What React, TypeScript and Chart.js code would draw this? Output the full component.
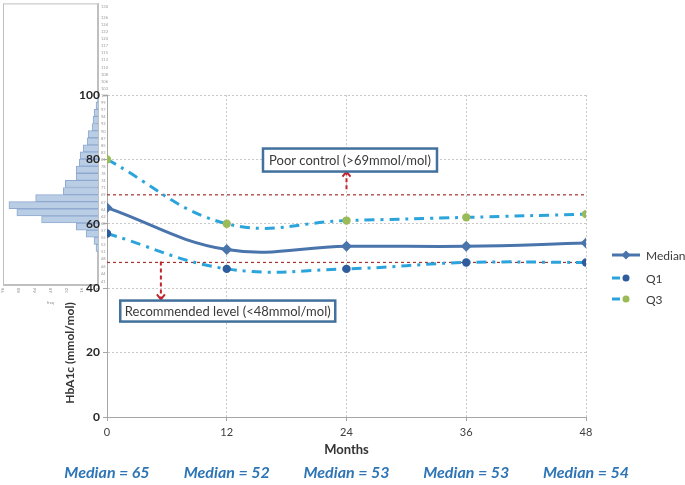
import React, { useEffect, useRef } from "react";
import { Chart, registerables } from "chart.js";

Chart.register(...registerables);

// ---------- data ----------
const months = [0, 12, 24, 36, 48];
const medianValues = [65, 52, 53, 53, 54];
const q1Values = [57, 46, 46, 48, 48];
const q3Values = [80, 60, 61, 62, 63];
const poorControlLevel = 69;
const recommendedLevel = 48;
const bottomLabels = ["Median = 65", "Median = 52", "Median = 53", "Median = 53", "Median = 54"];
const seriesLabels = ["Median", "Q1", "Q3"];

// histogram of baseline HbA1c (bin centres in mmol/mol, bar lengths as read)
const histBinCenters = [51.95, 54.25, 56.55, 58.85, 61.15, 63.45, 65.75, 68.05, 70.35, 72.65, 74.95, 77.25, 79.55, 81.85, 84.15, 86.45, 88.75, 91.05, 93.35, 95.65, 97.95, 100.25];
const histCounts = [2, 4, 12, 22, 57, 82, 90, 63, 35, 33, 22, 22, 19, 18, 15, 11, 10, 6, 5, 4, 2, 1];

// annotation texts
const poorControlText = "Poor control (>69mmol/mol)";
const recommendedText = "Recommended level (<48mmol/mol)";

// ---------- styles ----------
const FONT = "Lato, 'Open Sans', sans-serif";
const MEDIAN_COLOR = "#4A74AC";
const DASH_COLOR = "#2BA4DC";
const Q1_POINT = "#2E5C9C";
const Q3_POINT = "#9BBB59";
const REF_COLOR = "#A5322C";

const overlayPlugin = {
  id: "overlay",
  afterDraw(chart: any) {
    const { ctx, chartArea, scales } = chart;
    const xs = scales.x;
    const ys = scales.y;
    ctx.save();

    // annotation boxes
    const drawBox = (cxVal: number, cyVal: number, w: number, h: number, text: string) => {
      const px = xs.getPixelForValue(cxVal);
      const py = ys.getPixelForValue(cyVal);
      ctx.fillStyle = "#ffffff";
      ctx.fillRect(px - w / 2, py - h / 2, w, h);
      ctx.lineWidth = 2.5;
      ctx.strokeStyle = "#41719C";
      ctx.strokeRect(px - w / 2, py - h / 2, w, h);
      ctx.fillStyle = "#3a3a3a";
      ctx.font = `13px ${FONT}`;
      ctx.textAlign = "center";
      ctx.textBaseline = "middle";
      ctx.fillText(text, px, py + 1);
    };
    const drawArrow = (xVal: number, fromVal: number, toVal: number) => {
      const px = xs.getPixelForValue(xVal);
      const y1 = ys.getPixelForValue(fromVal);
      const y2 = ys.getPixelForValue(toVal);
      const dir = y2 > y1 ? 1 : -1;
      ctx.strokeStyle = "#C0272D";
      ctx.lineWidth = 2;
      ctx.setLineDash([4, 3]);
      ctx.beginPath();
      ctx.moveTo(px, y1);
      ctx.lineTo(px, y2);
      ctx.stroke();
      ctx.setLineDash([]);
      ctx.beginPath();
      ctx.moveTo(px - 4, y2 - dir * 5);
      ctx.lineTo(px, y2);
      ctx.lineTo(px + 4, y2 - dir * 5);
      ctx.stroke();
    };

    drawArrow(24, 70.7, 76.2);
    drawBox(24.35, 79.8, 174, 23, poorControlText);
    drawArrow(5.4, 48.3, 36.5);
    drawBox(12.1, 32.9, 215, 21, recommendedText);

    // legend
    const lx = chartArea.right + 26;
    const legendY = [255, 278, 299];
    const pointColors = [MEDIAN_COLOR, Q1_POINT, Q3_POINT];
    seriesLabels.forEach((lab, i) => {
      const y = legendY[i];
      ctx.lineWidth = 3;
      if (i === 0) {
        ctx.strokeStyle = MEDIAN_COLOR;
        ctx.beginPath();
        ctx.moveTo(lx, y);
        ctx.lineTo(lx + 28, y);
        ctx.stroke();
        ctx.fillStyle = MEDIAN_COLOR;
        ctx.beginPath();
        ctx.moveTo(lx + 14, y - 4.5);
        ctx.lineTo(lx + 18.5, y);
        ctx.lineTo(lx + 14, y + 4.5);
        ctx.lineTo(lx + 9.5, y);
        ctx.closePath();
        ctx.fill();
      } else {
        ctx.strokeStyle = DASH_COLOR;
        ctx.beginPath();
        ctx.moveTo(lx, y);
        ctx.lineTo(lx + 8, y);
        ctx.stroke();
        ctx.fillStyle = pointColors[i];
        ctx.beginPath();
        ctx.arc(lx + 14, y, 3.5, 0, Math.PI * 2);
        ctx.fill();
      }
      ctx.fillStyle = "#3a3a3a";
      ctx.font = `12px ${FONT}`;
      ctx.textAlign = "left";
      ctx.textBaseline = "middle";
      ctx.fillText(lab, lx + 34, y + 1);
    });

    // axis titles
    ctx.fillStyle = "#333333";
    ctx.font = `bold 13px ${FONT}`;
    ctx.textAlign = "center";
    ctx.textBaseline = "middle";
    ctx.fillText("Months", (chartArea.left + chartArea.right) / 2, 450);

    ctx.save();
    ctx.translate(70, 353);
    ctx.rotate(-Math.PI / 2);
    ctx.font = `bold 12px ${FONT}`;
    ctx.fillText("HbA1c (mmol/mol)", 0, 0);
    ctx.restore();

    // bottom median labels
    ctx.fillStyle = "#2E75B6";
    ctx.font = `italic bold 16px ${FONT}`;
    bottomLabels.forEach((t, i) => {
      ctx.fillText(t, xs.getPixelForValue(months[i]), 473);
    });

    ctx.restore();
  },
};

const histFramePlugin = {
  id: "histFrame",
  beforeDatasetsDraw(chart: any) {
    const { ctx, chartArea: a } = chart;
    ctx.save();
    ctx.strokeStyle = "#BFBFBF";
    ctx.lineWidth = 1;
    ctx.strokeRect(a.left + 0.5, a.top + 0.5, a.right - a.left - 1, a.bottom - a.top - 1);
    ctx.restore();
  },
};

export default function App() {
  const mainRef = useRef<HTMLCanvasElement>(null);
  const histRef = useRef<HTMLCanvasElement>(null);

  useEffect(() => {
    const hist = new Chart(histRef.current as HTMLCanvasElement, {
      type: "bar",
      data: {
        datasets: [
          {
            label: "Baseline",
            data: histBinCenters.map((c, i) => ({ x: histCounts[i], y: c })),
            backgroundColor: "#B9CDE5",
            borderColor: "#8FA9D0",
            borderWidth: 1,
            barPercentage: 1,
            categoryPercentage: 1,
          },
        ],
      },
      options: {
        indexAxis: "y",
        responsive: false,
        animation: false,
        events: [],
        layout: { padding: { left: 3, top: 1, right: 0, bottom: 0 } },
        plugins: { legend: { display: false }, tooltip: { enabled: false } },
        scales: {
          x: {
            type: "linear",
            reverse: true,
            min: 0,
            max: 96,
            position: "bottom",
            grid: { display: false, drawTicks: true, tickLength: 2, tickColor: "#BFBFBF" },
            border: { display: true, color: "#BFBFBF" },
            ticks: { stepSize: 16, font: { size: 4, family: FONT }, color: "#888", maxRotation: 90, minRotation: 90, padding: 1 },
            title: { display: true, text: "freq", font: { size: 4, family: FONT }, color: "#888", padding: 0 },
            afterFit: (s: any) => { s.height = 20; },
          },
          y: {
            type: "linear",
            position: "right",
            min: 41.1,
            max: 129.9,
            grid: { display: false, drawTicks: true, tickLength: 2, tickColor: "#BFBFBF" },
            border: { display: true, color: "#BFBFBF" },
            ticks: { stepSize: 2.3, autoSkip: false, font: { size: 4, family: FONT }, color: "#999", padding: 1, callback: (v: any) => Math.round(Number(v)) },
            afterFit: (s: any) => { s.width = 14; },
          },
        },
      },
      plugins: [histFramePlugin],
    } as any);

    const main = new Chart(mainRef.current as HTMLCanvasElement, {
      type: "line",
      data: {
        datasets: [
          {
            label: seriesLabels[0],
            data: months.map((m, i) => ({ x: m, y: medianValues[i] })),
            borderColor: MEDIAN_COLOR,
            backgroundColor: MEDIAN_COLOR,
            borderWidth: 3,
            tension: 0.4,
            pointStyle: "rectRot",
            pointRadius: 5.5,
            pointBackgroundColor: MEDIAN_COLOR,
            pointBorderColor: MEDIAN_COLOR,
            pointBorderWidth: 0,
          },
          {
            label: seriesLabels[1],
            data: months.map((m, i) => ({ x: m, y: q1Values[i] })),
            borderColor: DASH_COLOR,
            backgroundColor: Q1_POINT,
            borderWidth: 3,
            borderDash: [10, 6, 3, 6],
            tension: 0.4,
            pointStyle: "circle",
            pointRadius: 4.2,
            pointBackgroundColor: Q1_POINT,
            pointBorderColor: Q1_POINT,
            pointBorderWidth: 0,
          },
          {
            label: seriesLabels[2],
            data: months.map((m, i) => ({ x: m, y: q3Values[i] })),
            borderColor: DASH_COLOR,
            backgroundColor: Q3_POINT,
            borderWidth: 3,
            borderDash: [10, 6, 3, 6],
            tension: 0.4,
            pointStyle: "circle",
            pointRadius: 4.2,
            pointBackgroundColor: Q3_POINT,
            pointBorderColor: Q3_POINT,
            pointBorderWidth: 0,
          },
          {
            label: "Poor control",
            data: [
              { x: months[0], y: poorControlLevel },
              { x: months[months.length - 1], y: poorControlLevel },
            ],
            borderColor: REF_COLOR,
            borderWidth: 1.2,
            borderDash: [3, 3],
            pointRadius: 0,
            tension: 0,
          },
          {
            label: "Recommended",
            data: [
              { x: months[0], y: recommendedLevel },
              { x: months[months.length - 1], y: recommendedLevel },
            ],
            borderColor: REF_COLOR,
            borderWidth: 1.2,
            borderDash: [3, 3],
            pointRadius: 0,
            tension: 0,
          },
        ],
      },
      options: {
        responsive: false,
        animation: false,
        events: [],
        layout: { padding: { left: 0, top: 95, right: 99, bottom: 0 } },
        plugins: { legend: { display: false }, tooltip: { enabled: false } },
        scales: {
          x: {
            type: "linear",
            min: 0,
            max: 48,
            grid: { color: "#C8C8C8", lineWidth: 1, drawTicks: true, tickLength: 4, tickColor: "#A6A6A6" },
            border: { display: true, color: "#A6A6A6", width: 1, dash: [2, 2] },
            ticks: { stepSize: 12, font: { size: 11, family: FONT }, color: "#404040", padding: 5 },
            afterFit: (s: any) => { s.height = 68; },
          },
          y: {
            type: "linear",
            min: 0,
            max: 100,
            grid: { color: "#C8C8C8", lineWidth: 1, drawTicks: true, tickLength: 4, tickColor: "#A6A6A6" },
            border: { display: true, color: "#A6A6A6", width: 1, dash: [2, 2] },
            ticks: { stepSize: 20, font: { size: 12, weight: "bold", family: FONT }, color: "#262626", padding: 3 },
            afterFit: (s: any) => { s.width = 107; },
          },
        },
      },
      plugins: [overlayPlugin],
    } as any);

    return () => {
      main.destroy();
      hist.destroy();
    };
  }, []);

  return (
    <div style={{ position: "absolute", left: 0, top: 0, width: 685, height: 485, background: "#ffffff" }}>
      <canvas ref={histRef} width={112} height={305} style={{ position: "absolute", left: 0, top: 0 }} />
      <canvas ref={mainRef} width={685} height={485} style={{ position: "absolute", left: 0, top: 0 }} />
    </div>
  );
}
